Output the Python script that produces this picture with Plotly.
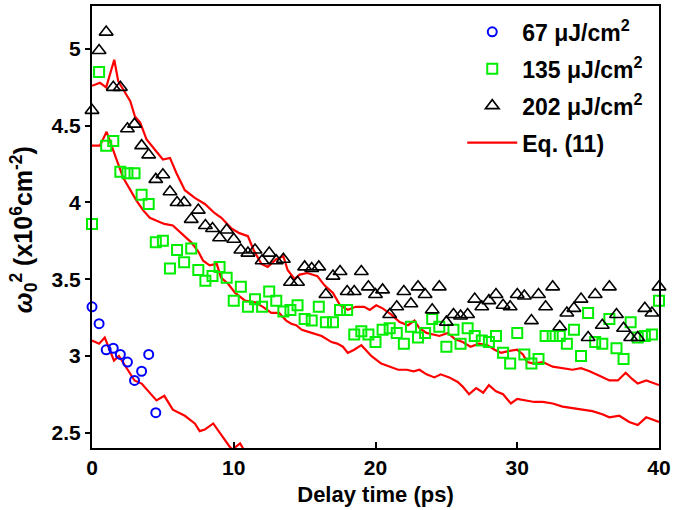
import plotly.graph_objects as go

# ---------------- data ----------------
delay_67 = [0, 0.5, 1.0, 1.5, 2.0, 2.5, 3.0, 3.5, 4.0, 4.5]
w2_67 = [3.32, 3.21, 3.04, 3.05, 3.01, 2.96, 2.84, 2.90, 3.01, 2.63]

delay_pts = [0, 0.5, 1, 1.5, 2, 2.5, 3, 3.5, 4, 4.5,
             5, 5.5, 6, 6.5, 7, 7.5, 8, 8.5, 9, 9.5,
             10, 10.5, 11, 11.5, 12, 12.5, 13, 13.5, 14, 14.5,
             15, 15.5, 16, 16.5, 17, 17.5, 18, 18.5, 19, 19.5,
             20, 20.5, 21, 21.5, 22, 22.5, 23, 23.5, 24, 24.5,
             25, 25.5, 26, 26.5, 27, 27.5, 28, 28.5, 29, 29.5,
             30, 30.5, 31, 31.5, 32, 32.5, 33, 33.5, 34, 34.5,
             35, 35.5, 36, 36.5, 37, 37.5, 38, 38.5, 39, 39.5,
             40]

w2_135 = [3.86, 4.85, 4.37, 4.40, 4.20, 4.19, 4.19, 4.05, 3.99, 3.74,
          3.75, 3.57, 3.69, 3.61, 3.70, 3.56, 3.49, 3.52, 3.58, 3.51,
          3.36, 3.45, 3.32, 3.37, 3.32, 3.42, 3.36, 3.29, 3.30, 3.33,
          3.24, 3.23, 3.32, 3.22, 3.22, 3.30, 3.30, 3.14, 3.16, 3.14,
          3.09, 3.17, 3.18, 3.15, 3.08, 3.19, 3.12, 3.15, 3.24, 3.19,
          3.06, 3.17, 3.08, 3.18, 3.13, 3.10, 3.09, 3.13, 3.02, 2.95,
          3.15, 3.01, 2.95, 2.98, 3.13, 3.13, 3.13, 3.08, 3.17, 3.00,
          3.28, 3.09, 3.08, 3.24, 3.05, 2.98, 3.22, 3.12, 3.13, 3.14,
          3.36]

w2_202 = [4.60, 4.99, 5.11, 4.75, 4.75, 4.48, 4.51, 4.37, 4.31, 4.15,
          4.18, 4.07, 4.00, 4.00, 3.89, 3.95, 3.85, 3.83, 3.77, 3.82,
          3.76, 3.69, 3.67, 3.69, 3.62, 3.67, 3.62, 3.63, 3.48, 3.48,
          3.58, 3.57, 3.58, 3.40, 3.52, 3.55, 3.42, 3.42, 3.55, 3.45,
          3.40, 3.43, 3.27, 3.32, 3.42, 3.34, 3.45, 3.40, 3.30, 3.45,
          3.22, 3.27, 3.26, 3.27, 3.37, 3.32, 3.36, 3.40, 3.33, 3.32,
          3.40, 3.39, 3.23, 3.40, 3.32, 3.45, 3.19, 3.28, 3.31, 3.37,
          3.12, 3.40, 3.20, 3.45, 3.27, 3.18, 3.12, 3.12, 3.31, 3.28,
          3.45]

# Eq. (11) model curves
fit67_t = [0, 0.5, 0.9, 1.3, 1.55, 1.9, 2.5, 3.0, 3.5, 3.9, 4.55, 5.1, 5.7,
           6.55, 7.25, 7.6, 7.96, 8.55, 9.13, 9.7, 9.9, 10.2, 10.45, 10.7, 11.0]
fit67_v = [3.10, 3.08, 3.12, 3.02, 2.97, 3.00, 2.91, 2.84, 2.82, 2.78, 2.71, 2.74, 2.65,
           2.61, 2.56, 2.51, 2.52, 2.56, 2.48, 2.41, 2.39, 2.41, 2.43, 2.39, 2.35]

fit135_t = [0, 0.56, 1.03, 1.4, 1.85, 2.2, 2.68, 3.15, 3.6, 4.08, 4.56, 5.1, 5.7,
            6.3, 7.0, 7.5, 7.84, 8.3, 8.8, 9.1, 9.6, 10.1, 10.8, 11.5, 12.06,
            12.65, 13.2, 13.7, 14.06, 14.4, 14.8, 15.5, 16.2, 16.9, 17.3, 17.7,
            18.05, 18.5, 19.0, 19.3, 19.7, 20.4, 21.0, 21.6, 22.2, 22.7, 23.1,
            23.6, 24.15, 24.6, 25.2, 25.8, 26.15, 26.6, 27.1, 27.6, 28.0, 28.5,
            29.0, 29.55, 30.0, 30.6, 31.2, 31.8, 32.5, 33.2, 33.9, 34.6, 35.3,
            36.0, 36.5, 37.2, 37.9, 38.5, 39.1, 40.0]
fit135_v = [4.37, 4.37, 4.46, 4.36, 4.25, 4.16, 4.08, 4.01, 3.95, 3.90, 3.88, 3.86, 3.85,
            3.80, 3.74, 3.68, 3.62, 3.59, 3.60, 3.51, 3.47, 3.41, 3.36, 3.35, 3.32,
            3.28, 3.28, 3.23, 3.21, 3.20, 3.17, 3.15, 3.13, 3.09, 3.08, 3.06,
            3.02, 3.04, 3.07, 3.04, 3.00, 2.95, 2.93, 2.91, 2.91, 2.90, 2.91,
            2.88, 2.86, 2.88, 2.86, 2.83, 2.80, 2.75, 2.79, 2.76, 2.81, 2.77,
            2.75, 2.69, 2.72, 2.71, 2.70, 2.70, 2.69, 2.67, 2.66, 2.65, 2.64,
            2.62, 2.60, 2.61, 2.57, 2.55, 2.60, 2.57]

fit202_t = [0, 0.56, 1.0, 1.57, 1.85, 2.3, 2.7, 3.03, 3.4, 3.85, 4.44, 5.0, 5.5,
            5.96, 6.55, 7.25, 7.96, 8.66, 9.13, 9.84, 10.4, 11.0, 11.4, 11.95,
            12.4, 13.0, 13.5, 13.8, 14.3, 14.65, 15.2, 15.9, 16.4, 17.0, 17.5,
            18.05, 18.6, 19.2, 19.6, 20.05, 20.5, 21.1, 21.7, 22.3, 22.75, 23.1,
            23.6, 24.15, 24.5, 25.1, 25.6, 26.15, 26.7, 27.3, 27.9, 28.4, 28.85,
            29.3, 30.0, 30.4, 30.7, 31.2, 31.8, 32.5, 33.2, 33.9, 34.5, 35.1,
            35.8, 36.5, 37.1, 37.65, 38.1, 38.5, 39.1, 40.0]
fit202_v = [4.76, 4.78, 4.75, 4.93, 4.79, 4.72, 4.66, 4.56, 4.52, 4.41, 4.34, 4.28, 4.29,
            4.19, 4.08, 4.03, 3.99, 3.93, 3.90, 3.83, 3.80, 3.78, 3.69, 3.60,
            3.58, 3.63, 3.65, 3.56, 3.50, 3.53, 3.54, 3.52, 3.46, 3.41, 3.33,
            3.30, 3.32, 3.32, 3.30, 3.33, 3.31, 3.27, 3.22, 3.20, 3.23, 3.18,
            3.15, 3.14, 3.13, 3.15, 3.11, 3.09, 3.06, 3.08, 3.07, 3.04, 3.02,
            3.03, 3.04, 3.01, 2.96, 2.95, 2.96, 2.93, 2.92, 2.91, 2.92, 2.90,
            2.87, 2.84, 2.84, 2.89, 2.85, 2.82, 2.84, 2.81]

x_ticks = [0, 10, 20, 30, 40]
y_ticks = [2.5, 3, 3.5, 4, 4.5, 5]
y_tick_labels = ["2.5", "3", "3.5", "4", "4.5", "5"]

legend_labels = ["67 μJ/cm<sup>2</sup>", "135 μJ/cm<sup>2</sup>",
                 "202 μJ/cm<sup>2</sup>", "Eq. (11)"]

# ---------------- figure ----------------
FONT = "Liberation Sans, Arial, sans-serif"
fig = go.Figure()

for i, (tt, vv) in enumerate([(fit67_t, fit67_v), (fit135_t, fit135_v), (fit202_t, fit202_v)]):
    fig.add_trace(go.Scatter(
        x=tt, y=vv, mode="lines",
        line=dict(color="#ff0000", width=2.2),
        name=legend_labels[3], showlegend=(i == 0), legendrank=4,
        legendgroup="fit"))

fig.add_trace(go.Scatter(
    x=delay_67, y=w2_67, mode="markers", name=legend_labels[0], legendrank=1,
    legendgroup="g67", cliponaxis=False,
    marker=dict(symbol="circle-open", size=9, color="#0000ff", line=dict(width=2))))
fig.add_trace(go.Scatter(
    x=delay_pts, y=w2_135, mode="markers", name=legend_labels[1], legendrank=2,
    legendgroup="g135", cliponaxis=False,
    marker=dict(symbol="square-open", size=10, color="#00ee00", line=dict(width=2))))
fig.add_trace(go.Scatter(
    x=delay_pts, y=w2_202, mode="markers", name=legend_labels[2], legendrank=3,
    legendgroup="g202", cliponaxis=False,
    marker=dict(symbol="triangle-up-open", size=12, color="#000000", line=dict(width=1.6))))

fig.update_layout(
    width=675, height=510,
    margin=dict(l=92, r=15, t=4, b=62),
    paper_bgcolor="white", plot_bgcolor="white",
    font=dict(family=FONT, color="black", size=21, weight="bold"),
    showlegend=True,
    legend=dict(x=0.653, y=0.99, xanchor="left", yanchor="top",
                bgcolor="rgba(0,0,0,0)", borderwidth=0, itemwidth=50,
                font=dict(family=FONT, size=23, weight="bold"),
                tracegroupgap=4, traceorder="grouped", groupclick="toggleitem"),
    xaxis=dict(range=[0, 40], tickvals=x_ticks, ticks="inside", ticklen=6,
               tickwidth=2, tickcolor="black", showline=True, linewidth=2.2,
               linecolor="black", mirror=True, showgrid=False, zeroline=False,
               tickfont=dict(family=FONT, size=21, weight="bold"),
               title=dict(text="Delay time (ps)", standoff=8,
                          font=dict(family=FONT, size=22, weight="bold"))),
    yaxis=dict(range=[2.4, 5.28], tickvals=y_ticks, ticktext=y_tick_labels,
               ticks="outside", ticklen=5, tickwidth=2, tickcolor="black",
               showline=True, linewidth=2.2, linecolor="black", mirror=True,
               showgrid=False, zeroline=False,
               tickfont=dict(family=FONT, size=21, weight="bold")),
    annotations=[dict(
        text="<i>ω</i><sub>0</sub><sup>2</sup> (x10<sup>6</sup>cm<sup>-2</sup>)",
        textangle=-90, xref="paper", yref="paper", x=-0.12, y=0.495,
        xanchor="center", yanchor="middle", showarrow=False,
        font=dict(family=FONT, size=25, weight="bold", color="black"))],
)

fig.write_html("out.html", config={"displayModeBar": False},
               post_script="document.body.style.margin='0';document.body.style.padding='0';")
